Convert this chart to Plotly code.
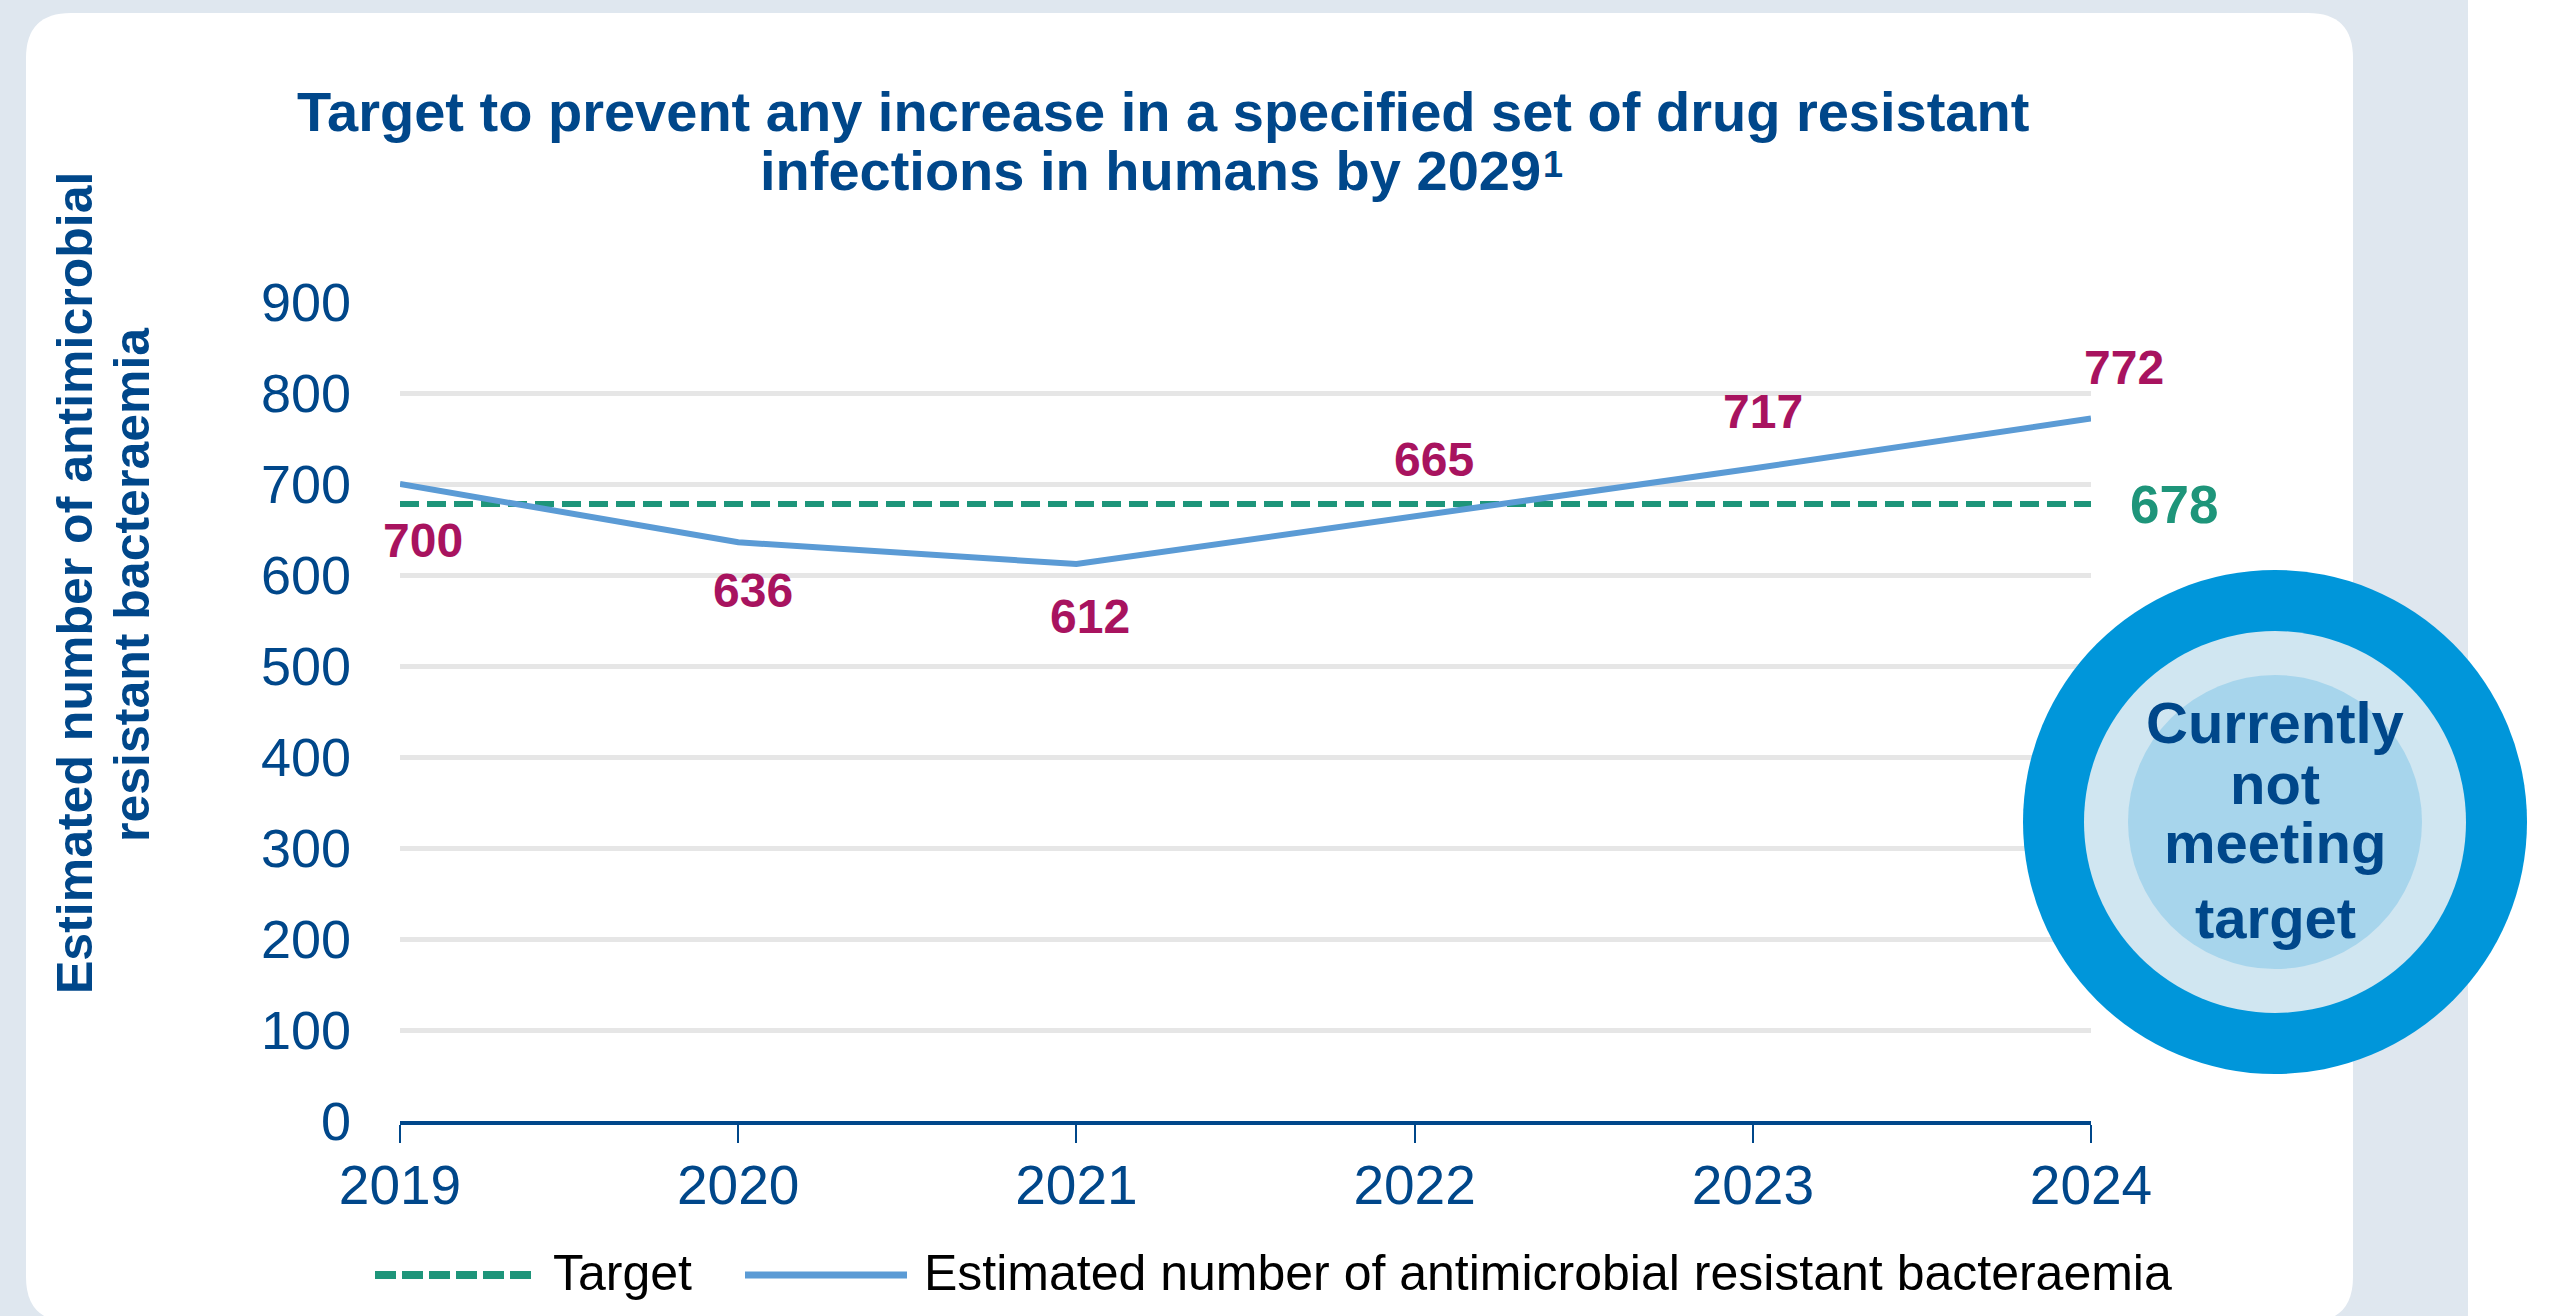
import plotly.graph_objects as go

# ---- data ----
years = [2019, 2020, 2021, 2022, 2023, 2024]
amr_bacteraemia = [700, 636, 612, 665, 717, 772]
target_value = 678
y_ticks = [0, 100, 200, 300, 400, 500, 600, 700, 800, 900]
series_name = "Estimated number of antimicrobial resistant bacteraemia"
target_name = "Target"
status_lines = ["Currently", "not", "meeting", "target"]

# ---- styling ----
W, H = 2550, 1316
PL, PR, PT, PB = 400, 2091, 302, 1121          # plot area edges in px
FONT = "Liberation Sans, Arial, sans-serif"
NAVY = "#00478a"
MAGENTA = "#a8135f"
GREEN = "#1e957a"
LINE_BLUE = "#5b9bd5"
GRID = "#e6e6e6"
BG = "#dfe7ef"


def fx(px):
    return (px - PL) / (PR - PL)


def fy(py):
    return (PB - py) / (PB - PT)


fig = go.Figure()

fig.add_trace(go.Scatter(
    x=[years[0], years[-1]], y=[target_value, target_value],
    mode="lines", name=target_name,
    line=dict(color=GREEN, width=6, dash="19px,8px"),
    hoverinfo="skip", showlegend=False,
))
fig.add_trace(go.Scatter(
    x=years, y=amr_bacteraemia, mode="lines", name=series_name,
    line=dict(color=LINE_BLUE, width=6),
    showlegend=False,
))

shapes = []
# page background and white rounded panel
shapes.append(dict(type="rect", xref="paper", yref="paper",
                   x0=fx(0), x1=fx(2468), y0=fy(H + 5), y1=fy(-5),
                   fillcolor=BG, line_width=0, layer="below"))
r = 45
x0, x1, y0, y1 = 26, 2353, 13, 1322
pts = [
    ("M", x0 + r, y0), ("L", x1 - r, y0), ("Q", x1, y0, x1, y0 + r),
    ("L", x1, y1 - r), ("Q", x1, y1, x1 - r, y1), ("L", x0 + r, y1),
    ("Q", x0, y1, x0, y1 - r), ("L", x0, y0 + r), ("Q", x0, y0, x0 + r, y0),
]
path = ""
for p in pts:
    cmd, coords = p[0], p[1:]
    vals = []
    for i in range(0, len(coords), 2):
        vals.append(f"{fx(coords[i]):.5f},{fy(coords[i + 1]):.5f}")
    path += cmd + " ".join(vals) + " "
path += "Z"
shapes.append(dict(type="path", xref="paper", yref="paper", path=path,
                   fillcolor="white", line_width=0, layer="below"))

# status badge: concentric circles
cx, cy = 2275, 822
for rad, col in [(252, "#0096da"), (191, "#d0e6f1"), (147, "#a7d5ec")]:
    shapes.append(dict(type="circle", xref="paper", yref="paper",
                       x0=fx(cx - rad), x1=fx(cx + rad),
                       y0=fy(cy + rad), y1=fy(cy - rad),
                       fillcolor=col, line_width=0, layer="above"))

# legend keys
shapes.append(dict(type="line", xref="paper", yref="paper",
                   x0=fx(375), x1=fx(531), y0=fy(1275), y1=fy(1275),
                   line=dict(color=GREEN, width=8, dash="21px,6px")))
shapes.append(dict(type="line", xref="paper", yref="paper",
                   x0=fx(745), x1=fx(907), y0=fy(1275), y1=fy(1275),
                   line=dict(color=LINE_BLUE, width=7)))

ann = []
# title
ann.append(dict(text="<b>Target to prevent any increase in a specified set of drug resistant</b>",
                xref="paper", yref="paper", x=fx(1163), y=fy(112),
                xanchor="center", yanchor="middle", showarrow=False,
                font=dict(family=FONT, size=56, color=NAVY)))
ann.append(dict(text="<b>infections in humans by 2029</b>",
                xref="paper", yref="paper", x=fx(1150), y=fy(171),
                xanchor="center", yanchor="middle", showarrow=False,
                font=dict(family=FONT, size=56, color=NAVY)))
# footnote marker
ann.append(dict(text="<b>1</b>",
                xref="paper", yref="paper", x=fx(1541), y=fy(165),
                xanchor="left", yanchor="middle", showarrow=False,
                font=dict(family=FONT, size=36, color=NAVY)))
# y axis title
for txt, px_, py_ in [("Estimated number of antimicrobial", 75, 583),
                      ("resistant bacteraemia", 132, 585)]:
    ann.append(dict(text=f"<b>{txt}</b>", xref="paper", yref="paper",
                    x=fx(px_), y=fy(py_), textangle=-90,
                    xanchor="center", yanchor="middle", showarrow=False,
                    font=dict(family=FONT, size=50, color=NAVY)))

# value labels next to each point (pixel offsets: right, down)
label_offsets = [(23, 56), (15, 48), (14, 52), (19, -56), (10, -57), (33, -51)]
for yr, val, (dx, dy) in zip(years, amr_bacteraemia, label_offsets):
    ann.append(dict(text=f"<b>{val}</b>", x=yr, y=val, xref="x", yref="y",
                    xshift=dx, yshift=-dy, showarrow=False,
                    xanchor="center", yanchor="middle",
                    font=dict(family=FONT, size=48, color=MAGENTA)))
# target value label
ann.append(dict(text=f"<b>{target_value}</b>", xref="paper", yref="y",
                x=fx(2128), y=target_value, xanchor="left", yanchor="middle",
                showarrow=False, font=dict(family=FONT, size=53, color=GREEN)))

# badge text
for txt, py_ in zip(status_lines, [722, 783, 842, 917]):
    ann.append(dict(text=f"<b>{txt}</b>", xref="paper", yref="paper",
                    x=fx(cx), y=fy(py_), xanchor="center", yanchor="middle",
                    showarrow=False, font=dict(family=FONT, size=58, color=NAVY)))

# legend labels
ann.append(dict(text=target_name, xref="paper", yref="paper", x=fx(551), y=fy(1273),
                xanchor="left", yanchor="middle", showarrow=False,
                font=dict(family=FONT, size=50, color="black")))
ann.append(dict(text=series_name, xref="paper", yref="paper", x=fx(922), y=fy(1273),
                xanchor="left", yanchor="middle", showarrow=False,
                font=dict(family=FONT, size=50, color="black")))

fig.update_layout(
    width=W, height=H, autosize=False,
    margin=dict(l=PL, r=W - PR, t=PT, b=H - PB, pad=0),
    paper_bgcolor="white", plot_bgcolor="rgba(0,0,0,0)",
    showlegend=False,
    shapes=shapes, annotations=ann,
    xaxis=dict(range=[years[0], years[-1]], tickvals=years,
               ticktext=[str(y) for y in years],
               showgrid=False, zeroline=False,
               showline=True, linecolor=NAVY, linewidth=4,
               ticks="outside", ticklen=18, tickwidth=2, tickcolor=NAVY,
               tickfont=dict(family=FONT, size=55, color=NAVY),
               ticklabelstandoff=-5, fixedrange=True),
    yaxis=dict(range=[0, 900], tickvals=y_ticks,
               showgrid=True, gridcolor=GRID, gridwidth=5,
               zeroline=False, showline=False, ticks="",
               tickfont=dict(family=FONT, size=54, color=NAVY),
               ticklabelstandoff=48, fixedrange=True),
)

fig.write_html("out.html")
